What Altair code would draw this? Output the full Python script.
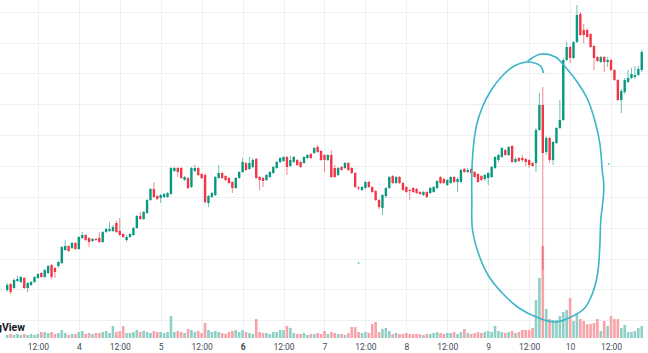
import altair as alt
import pandas as pd

# ---- hourly candles (hour 0 = day "4" 00:00) ----
hours = list(range(-21, 166))

opens = [110,116,112,119,118,122,112,115,118,122,127,123,127,135,132,134,137,150,154,152,157,
         151,162,165,162,159,161,162,158,168,169,169,177,169,166,160,163,165,172,184,181,187,200,211,204,202,
         203,203,206,229,232,232,220,222,213,229,232,226,225,197,203,205,222,227,224,222,218,212,222,228,237,231,233,241,223,222,220,223,227,232,238,239,
         243,234,238,240,238,237,242,246,247,253,249,245,240,245,232,225,233,232,237,232,227,212.5,210,212,218,213,209,200,192,204,212,224,217,223,217,213,210,212,211,208,205,208,207,208,212,223,221,215,217,223,218,218,231,228,231,228,226,224,221,222,223,232,240,243,250,245,254,238,242,242,241,240,237,
         237,270,295,248,262,240,257,272,280,340,353,342,358,386,370,370,366,354,343,338,343,338,340,330,320,300,308,318,322,323,325,330]

closes = [115,108,120,121,123,112,117,118,123,126,123,130,134,123,128,138,153,154,149,157,151,
          163,165,160,158,161,160,158,168,171,171,173,168,165,163,163,166,172,184,181,188,200,211,203,201,205,
          206,207,232,232,228,222,223,212,232,232,225,222,198,204,207,223,227,222,220,217,212,222,228,238,230,237,240,222,220,219,225,228,233,238,242,243,
          233,240,243,235,233,243,245,242,252,248,240,240,245,223,223,232,230,237,230,227,213,211.5,213,218,213,208,200,193,205,212,223,217,223,217,210,208,209,208,207,206,208,203,212,213,219,217,217,220,223,218,221,230,228,230,227,223,218,220,225,227,233,243,245,252,245,253,238,241,239,240,238,235,234,
          270,295,247,262,240,258,272,280,340,353,342,358,385,365,365,363,353,342,339,343,338,340,330,320,300,309,320,322,326,325,331,348]

highs = [117,117,122,124,124,123,118,119,124,127,128,131,135,136,133,139,154,160,155,158,158,
         164,168,166,163,162,162,168,169,172,178,175,179,182,167,165,167,173,185,188,189,201,212,218,205,206,
         207,208,233,233,233,233,224,223,233,235,233,227,227,205,208,224,235,228,225,223,219,223,229,242,238,243,242,242,224,223,226,229,234,239,243,244,
         244,244,244,241,239,244,246,247,253,255,250,246,246,250,235,233,234,238,238,233,228,214,214,219,219,214,210,201,206,213,224,225,224,224,218,214,211,213,212,209,209,209,213,214,220,224,222,221,224,224,223,231,232,232,232,229,227,225,226,228,234,244,246,253,251,254,255,243,243,245,242,241,238,
         272,307,313,264,263,259,273,300,342,358,354,359,395,388,376,372,367,355,344,344,344,343,341,331,321,311,322,330,332,334,334,350]

lows = [108,106,111,118,117,111,108,114,117,121,122,122,126,121,122,132,136,149,148,151,150,
        150,161,159,153,158,159,157,157,167,168,168,167,164,162,158,162,164,171,180,180,186,199,202,200,197,
        202,202,205,228,223,221,219,211,212,228,224,221,196,193,202,204,221,221,219,216,207,211,221,227,229,230,232,221,210,213,219,222,226,231,237,238,
        225,233,237,234,232,236,241,241,246,247,239,228,239,222,222,224,229,231,229,226,212,210,209,211,212,207,199,191,185,202,211,216,216,216,209,207,200,207,206,205,204,202,206,207,211,216,216,214,216,217,208,217,227,227,226,222,217,219,219,215,222,231,238,242,244,244,237,237,238,238,234,232,233,
        228,269,130,245,237,235,256,271,279,339,337,341,357,364,357,362,352,330,338,337,328,333,329,319,299,287,306,317,321,321,324,328]

volumes = [3,4,3,4,3,4,3,4,3,4,6,6,5,6,4,5,8,5,3,4,4,
           6,7,4,5,4,5,5,6,7,5,12,6,7,12,5,5,6,8,6,7,6,5,7,6,6,
           5,6,22,6,7,6,5,9,8,6,7,5,15,8,6,7,6,5,4,6,7,8,6,8,6,5,4,19,6,5,5,4,6,6,8,8,
           12,10,5,4,4,5,3,4,4,5,4,7,4,6,5,4,4,3,5,11,11,6,5,6,5,14,16,6,9,10,7,4,5,4,4,5,4,4,4,4,3,4,4,5,6,5,4,5,5,6,4,6,9,5,4,5,6,5,6,7,6,12,7,6,5,6,7,5,6,8,8,8,10,
           38,60,92,29,19,18,18,22,26,28,40,17,25,19,17,14,14,15,19,7,17,12,22,19,19,10,13,6,6,7,10,12]

# ---- hand-drawn loop (hour, price) ----
loop_hour = [136.2,135.35,133.6,131.3,127.6,124.1,120.9,118.3,116.6,115.7,115.2,115.2,115.4,117.5,120.3,124.1,129.0,134.8,139.7,
             144.3,148.3,150.6,152.1,152.7,153.0,153.8,153.8,153.5,152.7,151.2,149.2,146.3,142.6,139.7,135.6,133.3,131.3]
loop_price = [327,334,337,338,334,324,310,293,275,255,227,200,170,143,123,107,92,82,78,
              83,92,107,127,153,180,205,220,227,257,280,300,317,333,343,346,343,338]
dot_hour = [82.0, 155.3]
dot_price = [137, 236]

grid_prices = [79.7, 110.55, 141.4, 172.25, 203.1, 233.95, 264.8, 295.65, 326.5, 357.35, 388.2]
time_ticks = list(range(-12, 157, 12))

UP, DOWN = "#089981", "#f23645"
VUP, VDOWN = "#8fd0c6", "#f7a3a8"
LOOP = "#3cb5c8"

df = pd.DataFrame({"hour": hours, "open": opens, "high": highs, "low": lows,
                   "close": closes, "volume": volumes})
loop_df = pd.DataFrame({"hour": loop_hour, "price": loop_price, "idx": list(range(len(loop_hour)))})
dot_df = pd.DataFrame({"hour": dot_hour, "price": dot_price})

xscale = alt.Scale(domain=[-21.645, 165.37], nice=False, zero=False)
yscale = alt.Scale(domain=[62, 400], nice=False, zero=False)

xaxis = alt.Axis(values=time_ticks, grid=True, gridColor="#eef0f4", gridWidth=1,
                 domain=False, ticks=False, title=None, labelPadding=4,
                 labelFont="Roboto", labelFontSize=8.5, labelColor="#444a55",
                 labelExpr="datum.value % 24 === 0 ? format(4 + datum.value / 24, 'd') : '12:00'",
                 labelFontWeight={"condition": {"test": "datum.value === 48", "value": "bold"}, "value": "normal"})
yaxis = alt.Axis(values=grid_prices, grid=True, gridColor="#eef0f4", gridWidth=1,
                 domain=False, ticks=False, labels=False, title=None)

X = alt.X("hour:Q", scale=xscale, axis=xaxis)
is_up = "datum.close >= datum.open"

volume = alt.Chart(df).mark_bar(size=2.6).encode(
    x=X,
    y=alt.Y("volume:Q", scale=alt.Scale(domain=[0, 338], nice=False), axis=None),
    color=alt.condition(is_up, alt.value(VUP), alt.value(VDOWN)),
)

wicks = alt.Chart(df).mark_rule(strokeWidth=1, opacity=0.6).encode(
    x=X,
    y=alt.Y("low:Q", scale=yscale, axis=yaxis),
    y2="high:Q",
    color=alt.condition(is_up, alt.value(UP), alt.value(DOWN)),
)

bodies = alt.Chart(df).mark_bar(size=2.4).encode(
    x=X,
    y=alt.Y("open:Q", scale=yscale, axis=yaxis),
    y2="close:Q",
    color=alt.condition(is_up, alt.value(UP), alt.value(DOWN)),
)

loop = alt.Chart(loop_df).mark_line(color=LOOP, strokeWidth=1.6, interpolate="catmull-rom").encode(
    x=X,
    y=alt.Y("price:Q", scale=yscale, axis=yaxis),
    order="idx:Q",
)

dots = alt.Chart(dot_df).mark_circle(color=LOOP, size=3, opacity=1).encode(
    x=X,
    y=alt.Y("price:Q", scale=yscale, axis=yaxis),
)

logo = alt.Chart(pd.DataFrame({"t": ["TradingView"]})).mark_text(
    align="right", baseline="alphabetic", font="Roboto", fontSize=10.5, fontWeight="bold",
    color="#131722", clip=True,
).encode(x=alt.value(25), y=alt.value(331), text="t:N")

price_layers = alt.layer(wicks, bodies, loop, dots, logo)

chart = alt.layer(volume, price_layers).resolve_scale(y="independent").properties(
    width=648, height=338,
    autosize=alt.AutoSizeParams(type="none"),
    padding={"left": 0, "right": 0, "top": 0, "bottom": 15},
    background="white",
).configure_view(stroke=None)

chart.save("out.html", embed_options={"renderer": "svg", "actions": False})
